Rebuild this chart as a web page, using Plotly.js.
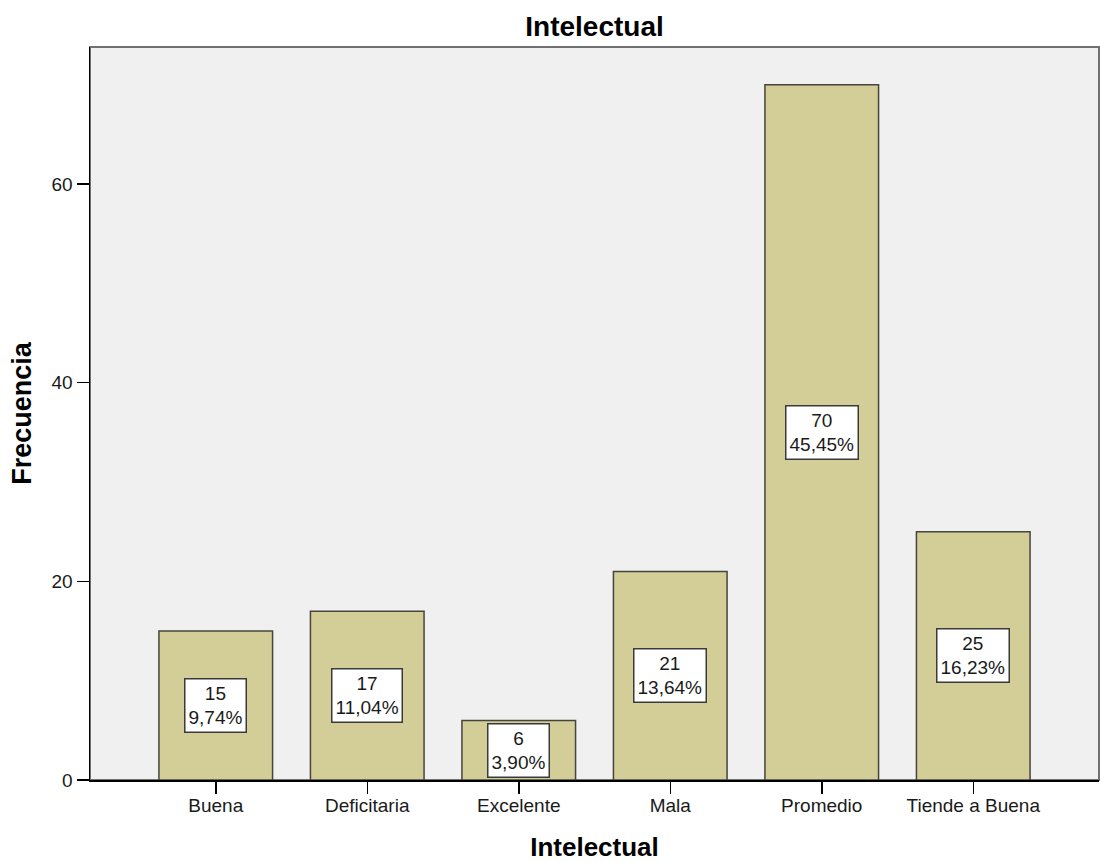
<!DOCTYPE html>
<html>
<head>
<meta charset="utf-8">
<script src="https://cdn.plot.ly/plotly-3.0.1.min.js"></script>
<style>
  html, body { margin: 0; padding: 0; background: #ffffff; }
  #chart { width: 1100px; height: 862px; }
</style>
</head>
<body>
<div id="chart"></div>
<script>
const categories = ["Buena", "Deficitaria", "Excelente", "Mala", "Promedio", "Tiende a Buena"];
const counts = [15, 17, 6, 21, 70, 25];
const pctLabels = ["9,74%", "11,04%", "3,90%", "13,64%", "45,45%", "16,23%"];
const yTicks = [0, 20, 40, 60];

const font = "Liberation Sans, Arial, sans-serif";

const trace = {
  type: "bar",
  x: categories,
  y: counts,
  width: 0.75,
  marker: { color: "#d3ce97", line: { color: "#45453d", width: 1.5 } },
  hoverinfo: "skip"
};

const annotations = categories.map((c, i) => ({
  x: c,
  y: counts[i] / 2,
  xref: "x",
  yref: "y",
  text: counts[i] + "<br>" + pctLabels[i],
  showarrow: false,
  font: { family: font, size: 19, color: "#1a1a1a" },
  bgcolor: "#ffffff",
  bordercolor: "#3a3a3a",
  borderwidth: 1.5,
  borderpad: 3
}));

const layout = {
  width: 1100,
  height: 862,
  margin: { l: 90, r: 1, t: 47, b: 82 },
  paper_bgcolor: "#ffffff",
  plot_bgcolor: "#f0f0f0",
  showlegend: false,
  hovermode: false,
  title: {
    text: "<b>Intelectual</b>",
    font: { family: font, size: 28, color: "#000000" },
    x: 0.5,
    xref: "paper",
    xanchor: "center",
    y: 1 - 26 / 862,
    yref: "container",
    yanchor: "middle"
  },
  xaxis: {
    range: [-0.83, 5.83],
    showgrid: false,
    zeroline: false,
    showline: true,
    linecolor: "#000000",
    linewidth: 1.5,
    ticks: "outside",
    ticklen: 12,
    tickwidth: 1.5,
    tickcolor: "#000000",
    ticklabelstandoff: -4,
    tickfont: { family: font, size: 19, color: "#1a1a1a" },
    title: {
      text: "<b>Intelectual</b>",
      font: { family: font, size: 26, color: "#000000" },
      standoff: 22
    },
    automargin: false
  },
  yaxis: {
    range: [0, 73.8],
    tickvals: yTicks,
    ticktext: yTicks.map(String),
    showgrid: false,
    zeroline: false,
    showline: true,
    linecolor: "#000000",
    linewidth: 1.5,
    ticks: "outside",
    ticklen: 12,
    tickwidth: 1.5,
    tickcolor: "#000000",
    tickfont: { family: font, size: 19, color: "#1a1a1a" },
    title: {
      text: "<b>Frecuencia</b>",
      font: { family: font, size: 27, color: "#000000" },
      standoff: 12
    },
    automargin: false
  },
  shapes: [{
    type: "rect",
    xref: "paper", yref: "paper",
    x0: 0, x1: 1, y0: 0, y1: 1,
    line: { color: "#707070", width: 2 },
    layer: "below"
  }],
  annotations: annotations
};

Plotly.newPlot("chart", [trace], layout, { displayModeBar: false, staticPlot: true });
</script>
</body>
</html>
